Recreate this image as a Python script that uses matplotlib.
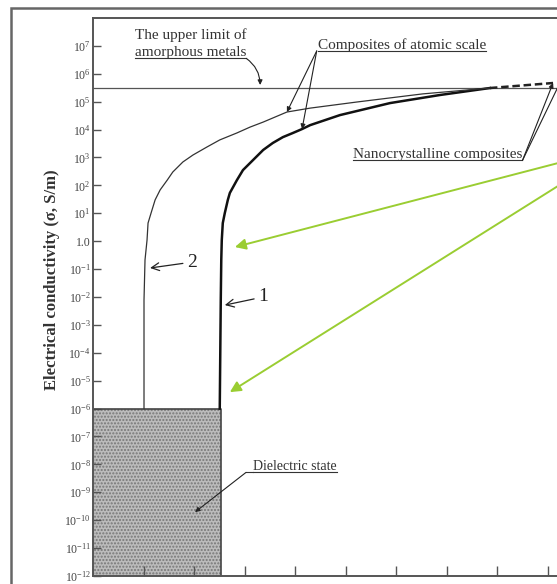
import matplotlib.pyplot as plt
from matplotlib.patches import Rectangle
import numpy as np

plt.rcParams['font.family'] = ['Liberation Serif', 'DejaVu Serif']
plt.rcParams['mathtext.default'] = 'regular'
plt.rcParams['hatch.linewidth'] = 1.0

# curve 1 (thick): position along the composition axis, log10(sigma)
curve1_x = [2.51, 2.53, 2.54, 2.55, 2.57, 2.61, 2.67, 2.71, 2.85, 2.97, 3.17, 3.37, 3.56,
            3.76, 3.96, 4.14, 4.30, 4.89, 5.88, 6.87, 7.86]
curve1_logs = [-6.0, -2.11, -0.67, 0.04, 0.65, 1.01, 1.48, 1.73, 2.19, 2.55, 2.91, 3.27, 3.52,
               3.73, 3.88, 4.02, 4.16, 4.52, 4.95, 5.24, 5.49]

# curve 2 (thin)
curve2_x = [1.01, 1.01, 1.03, 1.07, 1.09, 1.15, 1.23, 1.33, 1.47, 1.58, 1.78, 1.98, 2.26,
            2.51, 2.85, 3.11, 3.37, 3.84, 4.30, 5.23, 6.53, 7.86]
curve2_logs = [-6.0, -2.11, -0.67, 0.04, 0.65, 1.01, 1.48, 1.84, 2.19, 2.48, 2.84, 3.09, 3.38,
               3.63, 3.88, 4.09, 4.27, 4.63, 4.77, 4.99, 5.28, 5.49]

# nanocrystalline branch (dashed)
nano_x = [7.86, 9.11]
nano_logs = [5.49, 5.67]

upper_limit = 3.1e5
dielectric_right = 2.53
dielectric_top = 1e-6
sigma_min = 1e-12
sigma_max = 1e8

decades = list(range(-12, 8))
ytick_labels = ['1.0' if d == 0 else '$10^{%d}$' % d for d in decades]
xticks = list(range(1, 10))

fig = plt.figure(figsize=(5.57, 5.84), dpi=100)
ax = fig.add_axes([93 / 557, 8 / 584, 505 / 557, 558 / 584])
ax.set_yscale('log')
ax.set_xlim(0, 10)
ax.set_ylim(sigma_min, sigma_max)

# dielectric region
ax.fill_between([0, dielectric_right], sigma_min, dielectric_top,
                facecolor='#bcbcbc', edgecolor='#777777', hatch='.....', lw=0, zorder=1)
ax.plot([0, dielectric_right, dielectric_right], [dielectric_top, dielectric_top, sigma_min],
        color='#444', lw=1.2, zorder=2)

ax.axhline(upper_limit, color='#555', lw=0.9)

c1 = 10 ** np.array(curve1_logs)
c2 = 10 ** np.array(curve2_logs)
ax.plot(curve1_x, c1, color='#111', lw=1.8, zorder=3)
ax.plot(curve2_x, c2, color='#333', lw=0.9, zorder=3)
ax.plot(nano_x, 10 ** np.array(nano_logs), color='#222', lw=1.8, ls=(0, (3, 1.5)), zorder=3)

ax.set_yticks([10.0 ** d for d in decades])
ax.set_yticklabels(ytick_labels)
ax.yaxis.set_minor_locator(plt.NullLocator())
ax.set_xticks(xticks)
ax.tick_params(axis='y', direction='in', length=6, width=1, color='#555',
               labelsize=8.5, labelcolor='#444', pad=1.5)
ax.tick_params(axis='x', direction='in', length=7, width=1, color='#555', labelbottom=False)
for s in ax.spines.values():
    s.set_color('#555')
    s.set_linewidth(1.4)

fig.text(52 / 557, 1 - 280 / 584, 'Electrical conductivity (σ, S/m)', rotation=90,
         ha='center', va='center', fontsize=12, fontweight='bold', color='#333')

# outer frame
fig.add_artist(Rectangle((11 / 557, -0.05), 1.2, 1.037, transform=fig.transFigure,
                         fill=False, lw=1.8, ec='#666'))

txt = dict(fontsize=11, color='#333', va='center', ha='left')
ax.text(0.83, 10 ** 7.39, 'The upper limit of', **txt)
t_up = ax.text(0.83, 10 ** 6.75, 'amorphous metals', **txt)
t_comp = ax.text(4.46, 10 ** 7.03, 'Composites of atomic scale', **txt)
t_nano = ax.text(5.15, 10 ** 3.09, 'Nanocrystalline composites', **txt)
t_diel = ax.text(3.17, 10 ** -8.09, 'Dielectric state', fontsize=10, color='#333',
                 va='center', ha='left')

fig.canvas.draw()
rend = fig.canvas.get_renderer()


def underline(t):
    bb = t.get_window_extent(rend)
    (x0, y0), (x1, _) = ax.transData.inverted().transform([[bb.x0, bb.y0 + 1], [bb.x1, bb.y0 + 1]])
    ax.plot([x0, x1], [y0, y0], color='#333', lw=0.8)
    return x0, x1, y0


def leader(start, tip, rad=0.0):
    ax.annotate('', xy=tip, xytext=start, annotation_clip=False,
                arrowprops=dict(arrowstyle='-|>', lw=0.8, color='#222', mutation_scale=7,
                                shrinkA=0, shrinkB=0, connectionstyle='arc3,rad=%s' % rad,
                                clip_on=False))


x0, x1, y0 = underline(t_up)
leader((x1, y0), (3.31, 10 ** 5.6), rad=-0.25)

x0, x1, y0 = underline(t_comp)
leader((x0 - 0.03, y0), (curve2_x[17], c2[17]))
leader((x0 - 0.03, y0), (curve1_x[15], c1[15]))

x0, x1, y0 = underline(t_nano)
leader((x1, y0), (nano_x[-1], 10 ** nano_logs[-1]))
leader((x1, y0), (9.37, 10 ** 6.14))

x0, x1, y0 = underline(t_diel)
ax.plot([x0, x0 - 0.14], [y0, y0], color='#333', lw=0.8)
leader((x0 - 0.14, y0), (2.02, 10 ** -9.71))

# green pointers
green = '#9acd32'
for tip in [(2.81, 10 ** -0.21), (2.71, 10 ** -5.41)]:
    ax.annotate('', xy=tip, xytext=(10.44, 10 ** 3.38), annotation_clip=False,
                arrowprops=dict(arrowstyle='-|>', lw=1.4, color=green, mutation_scale=16,
                                shrinkA=0, shrinkB=0))

# curve numbers
ax.annotate('2', xy=(1.13, 10 ** -0.96), xytext=(1.96, 10 ** -0.75), fontsize=14,
            ha='center', va='center', color='#222',
            arrowprops=dict(arrowstyle='->', lw=0.9, color='#222', shrinkA=1, shrinkB=0))
ax.annotate('1', xy=(2.61, 10 ** -2.29), xytext=(3.37, 10 ** -2.0), fontsize=14,
            ha='center', va='center', color='#222',
            arrowprops=dict(arrowstyle='->', lw=0.9, color='#222', shrinkA=1, shrinkB=0))

fig.savefig('out.png', dpi=100)
